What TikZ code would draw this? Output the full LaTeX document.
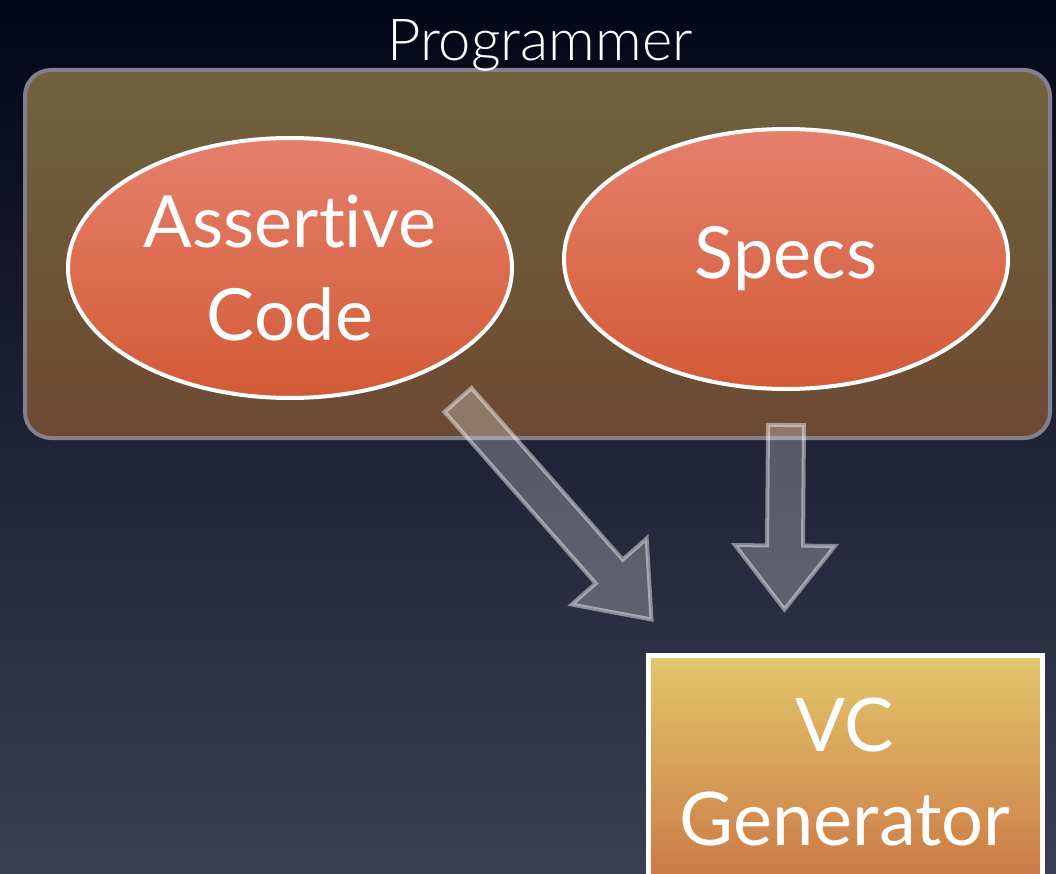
\documentclass[tikz,border=0pt]{standalone}
\usepackage{fontspec}
\setmainfont{Lato}[Ligatures=NoCommon]
\newfontfamily\lightfont{Lato Light}
\usetikzlibrary{calc,shapes.geometric}

\definecolor{bgtop}{RGB}{3,6,22}
\definecolor{bgbot}{RGB}{60,62,84}
\definecolor{progtop}{RGB}{112,98,60}
\definecolor{progbot}{RGB}{108,74,52}
\definecolor{progline}{RGB}{128,128,142}
\definecolor{ovaltop}{RGB}{229,128,107}
\definecolor{ovalbot}{RGB}{210,90,54}
\definecolor{gentop}{RGB}{227,199,107}
\definecolor{genbot}{RGB}{202,118,68}

% block arrow from #1 to #2
\newcommand{\blockarrow}[2]{%
 \draw [bigarrow] ($(#1)!18pt!90:(#2)$) -- ($(#2)!64pt!(#1)!18pt!-90:(#1)$) -- ($(#2)!64pt!(#1)!50pt!-90:(#1)$) -- (#2)
   -- ($(#2)!64pt!(#1)!50pt!90:(#1)$) -- ($(#2)!64pt!(#1)!18pt!90:(#1)$) -- ($(#1)!18pt!-90:(#2)$) -- cycle;}

\begin{document}
\begin{tikzpicture}[x=1pt,y=-1pt,
 progbox/.style={rectangle,rounded corners=26pt,draw=progline,line width=4pt,top color=progtop,bottom color=progbot,minimum width=1025pt,minimum height=368pt},
 oval/.style={ellipse,draw=white,line width=4pt,top color=ovaltop,bottom color=ovalbot,minimum width=444pt,minimum height=260pt,inner sep=-40pt,text=white,align=center,font=\fontsize{72}{93}\selectfont},
 genbox/.style={rectangle,draw=white,line width=5pt,top color=gentop,bottom color=genbot,minimum width=394pt,minimum height=234pt,text=white,align=center,font=\fontsize{74}{94}\selectfont},
 bigarrow/.style={draw=white,draw opacity=0.45,fill=white,fill opacity=0.25,line width=4pt,line join=miter}]

\clip (0,0) rectangle (1056,874);
\shade [top color=bgtop,bottom color=bgbot] (0,0) rectangle (1056,874);

\node[progbox] (prog) at (537.5,254) {};
\node[anchor=base,text=white,font=\lightfont\fontsize{58}{60}\selectfont] (progtitle) at (540,61) {Programmer};

\node[oval] (code) at (290,268) {Assertive\\Code};
\node[oval] (specs) at (786,259) {Specs};

\node[genbox] (vcgen) at (845,772) {VC\\Generator};

%\draw [red] (code.south) -- (vcgen.north west);
\coordinate (codetail) at ($(code.south)+(168,0)$);
\coordinate (codetip) at ($(vcgen.north west)+(6,-33)$);
\coordinate (specstail) at ($(specs.south)+(0,34)$);
\coordinate (specstip) at ($(vcgen.north west)+(139,-43)$);

\blockarrow{codetail}{codetip}
\blockarrow{specstail}{specstip}

\end{tikzpicture}
\end{document}
